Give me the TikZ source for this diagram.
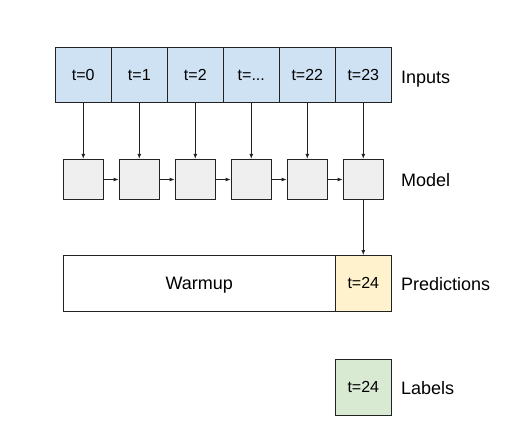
\documentclass[tikz,border=0pt]{standalone}
\usepackage{fontspec}
\setmainfont{Liberation Sans}
\usetikzlibrary{arrows.meta}
\definecolor{inblue}{HTML}{CFE2F3}
\definecolor{modgray}{HTML}{EFEFEF}
\definecolor{predyellow}{HTML}{FFF2CC}
\definecolor{labgreen}{HTML}{D9EAD3}
\definecolor{linec}{HTML}{222222}
\tikzset{
  cellbox/.style={draw=linec, line width=0.9pt, minimum width=56pt, minimum height=55.5pt, inner sep=0pt, font=\fontsize{16}{18}\selectfont},
  inbox/.style={cellbox, fill=inblue},
  modbox/.style={draw=linec, line width=0.9pt, fill=modgray, minimum width=40.5pt, minimum height=40.5pt, inner sep=0pt},
  sidelabel/.style={anchor=base west, inner sep=0pt, font=\fontsize{18}{20}\selectfont},
  conn/.style={draw=linec, line width=0.8pt, -{Latex[length=5pt,width=4pt]}}
}
\begin{document}
\begin{tikzpicture}[x=1pt,y=-1pt]
\useasboundingbox (0,0) rectangle (526,445);
\foreach \i/\t in {0/0,1/1,2/2,3/{...},4/22,5/23}{
  \node[inbox] (in\i) at ({83.3+56*\i},75) {t=\t};
  \node[modbox] (m\i) at ({83.3+56*\i},179.5) {};
  \draw[conn] (in\i.south) -- (m\i.north);
}
\foreach \i [evaluate=\i as \j using int(\i+1)] in {0,...,4}{
  \draw[conn] (m\i.east) -- (m\j.west);
}
\node[cellbox, fill=white, minimum width=272pt, text depth=0pt, font=\fontsize{18}{20}\selectfont] (warm) at (199.3,283.2) {Warmup};
\node[cellbox, fill=predyellow] (pred) at (363.3,283.2) {t=24};
\node[cellbox, fill=labgreen] (lab) at (363.3,387.2) {t=24};
\draw[conn] (m5.south) -- (pred.north);
\node[sidelabel] (linputs) at (401,83) {Inputs};
\node[sidelabel] (lmodel) at (401,186.5) {Model};
\node[sidelabel] (lpred) at (401,290.5) {Predictions};
\node[sidelabel] (llab) at (401,394.5) {Labels};
\end{tikzpicture}
\end{document}
